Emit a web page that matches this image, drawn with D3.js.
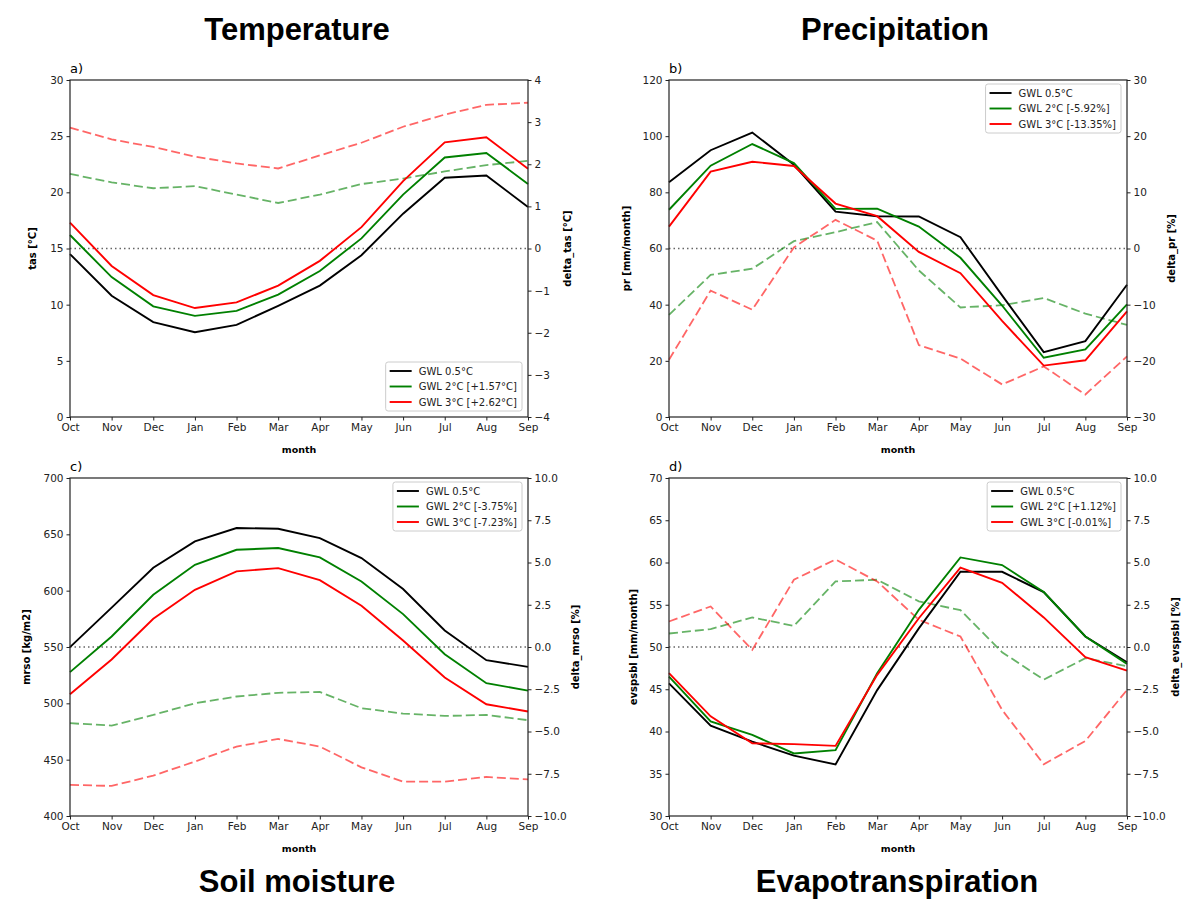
<!DOCTYPE html>
<html>
<head>
<meta charset="utf-8">
<script src="https://cdn.jsdelivr.net/npm/d3@7"></script>
<style>
  body { margin: 0; background: #fff; }
  text { font-family: 'DejaVu Sans', sans-serif; }
</style>
</head>
<body>
<script>
const months = ['Oct', 'Nov', 'Dec', 'Jan', 'Feb', 'Mar', 'Apr', 'May', 'Jun', 'Jul', 'Aug', 'Sep'];

// a) temperature
const tasGwl05 = [14.5, 10.8, 8.45, 7.55, 8.2, 9.9, 11.7, 14.4, 18.1, 21.3, 21.5, 18.7];
const tasGwl2 = [16.2, 12.45, 9.85, 9.0, 9.45, 10.9, 13.0, 15.9, 19.8, 23.1, 23.5, 20.75];
const tasGwl3 = [17.3, 13.45, 10.85, 9.7, 10.2, 11.7, 13.9, 16.9, 21.0, 24.45, 24.9, 22.1];
const tasDelta2 = [1.77, 1.57, 1.43, 1.48, 1.28, 1.08, 1.28, 1.53, 1.66, 1.83, 1.98, 2.08];
const tasDelta3 = [2.87, 2.59, 2.41, 2.18, 2.02, 1.9, 2.21, 2.51, 2.89, 3.18, 3.41, 3.46];
const tasLegend = ['GWL 0.5°C', 'GWL 2°C [+1.57°C]', 'GWL 3°C [+2.62°C]'];

// b) precipitation
const prGwl05 = [83.6, 95.0, 101.3, 89.8, 73.1, 71.5, 71.4, 64.0, 43.3, 23.1, 27.0, 47.1];
const prGwl2 = [73.8, 89.5, 97.2, 90.4, 74.1, 74.2, 67.8, 56.7, 39.7, 21.1, 24.1, 40.1];
const prGwl3 = [67.8, 87.4, 90.9, 89.4, 76.0, 71.5, 58.8, 51.2, 34.2, 18.3, 20.2, 37.6];
const prDelta2 = [-11.8, -4.7, -3.6, 1.3, 2.9, 4.7, -3.9, -10.5, -10.1, -8.8, -11.6, -13.6];
const prDelta3 = [-19.8, -7.5, -10.9, 0.2, 5.1, 1.4, -17.2, -19.6, -24.2, -21.0, -26.0, -19.2];
const prLegend = ['GWL 0.5°C', 'GWL 2°C [-5.92%]', 'GWL 3°C [-13.35%]'];

// c) soil moisture
const mrsoGwl05 = [549.9, 585, 620.3, 643.7, 655.6, 655.0, 646.7, 628.9, 601.4, 564.7, 538.3, 532.4];
const mrsoGwl2 = [527.7, 559.3, 596.4, 623.0, 636.3, 637.8, 629.5, 608.2, 579.2, 543.6, 517.9, 511.3];
const mrsoGwl3 = [508.1, 538.9, 575.0, 600.8, 617.1, 620.0, 609.4, 586.6, 555.8, 522.9, 499.2, 492.7];
const mrsoDelta2 = [-4.51, -4.65, -4.02, -3.33, -2.93, -2.71, -2.66, -3.62, -3.94, -4.08, -4.02, -4.33];
const mrsoDelta3 = [-8.16, -8.22, -7.61, -6.78, -5.89, -5.44, -5.89, -7.12, -7.97, -7.97, -7.69, -7.83];
const mrsoLegend = ['GWL 0.5°C', 'GWL 2°C [-3.75%]', 'GWL 3°C [-7.23%]'];

// d) evapotranspiration
const evGwl05 = [45.7, 40.7, 38.8, 37.15, 36.1, 44.9, 52.2, 58.9, 58.9, 56.5, 51.25, 48.2];
const evGwl2 = [46.5, 41.2, 39.6, 37.4, 37.8, 46.9, 54.4, 60.6, 59.7, 56.5, 51.25, 48.0];
const evGwl3 = [46.9, 41.8, 38.6, 38.5, 38.3, 46.7, 53.4, 59.4, 57.6, 53.5, 48.8, 47.2];
const evDelta2 = [0.8, 1.06, 1.75, 1.25, 3.88, 3.98, 2.7, 2.18, -0.31, -1.93, -0.66, -1.14];
const evDelta3 = [1.51, 2.4, -0.17, 3.98, 5.18, 3.88, 1.61, 0.62, -3.72, -6.94, -5.56, -2.54];
const evLegend = ['GWL 0.5°C', 'GWL 2°C [+1.12%]', 'GWL 3°C [-0.01%]'];

const w = 1200;
const h = 916;

const svg = d3.select('body').append('svg')
  .attr('width', w)
  .attr('height', h);

const titles = [
  { text: 'Temperature', x: 297, y: 40 },
  { text: 'Precipitation', x: 895, y: 40 },
  { text: 'Soil moisture', x: 297, y: 892 },
  { text: 'Evapotranspiration', x: 897, y: 892 }
];
svg.selectAll('text.title')
  .data(titles)
  .enter()
  .append('text')
  .attr('class', 'title')
  .attr('x', d => d.x)
  .attr('y', d => d.y)
  .attr('text-anchor', 'middle')
  .style('font-family', "'Liberation Sans', Arial, sans-serif")
  .style('font-weight', 'bold')
  .style('font-size', '31px')
  .text(d => d.text);

const panels = [
  {
    tag: 'a)', x0: 70, x1: 528, y0: 80, y1: 417,
    left: [0, 30], leftTicks: d3.range(0, 31, 5), leftFmt: d3.format('d'),
    right: [-4, 4], rightTicks: d3.range(-4, 5, 1), rightFmt: d3.format('d'),
    ylabel: 'tas [°C]', ylabelOff: 38, rlabel: 'delta_tas [°C]', rlabelOff: 39,
    base: tasGwl05, g2: tasGwl2, g3: tasGwl3, d2: tasDelta2, d3: tasDelta3,
    legend: tasLegend, legendPos: 'bottom'
  },
  {
    tag: 'b)', x0: 669, x1: 1127, y0: 80, y1: 417,
    left: [0, 120], leftTicks: d3.range(0, 121, 20), leftFmt: d3.format('d'),
    right: [-30, 30], rightTicks: d3.range(-30, 31, 10), rightFmt: d3.format('d'),
    ylabel: 'pr [mm/month]', ylabelOff: 43, rlabel: 'delta_pr [%]', rlabelOff: 44,
    base: prGwl05, g2: prGwl2, g3: prGwl3, d2: prDelta2, d3: prDelta3,
    legend: prLegend, legendPos: 'top'
  },
  {
    tag: 'c)', x0: 70, x1: 528, y0: 478, y1: 816,
    left: [400, 700], leftTicks: d3.range(400, 701, 50), leftFmt: d3.format('d'),
    right: [-10, 10], rightTicks: d3.range(-10, 10.1, 2.5), rightFmt: d3.format('.1f'),
    ylabel: 'mrso [kg/m2]', ylabelOff: 44, rlabel: 'delta_mrso [%]', rlabelOff: 47,
    base: mrsoGwl05, g2: mrsoGwl2, g3: mrsoGwl3, d2: mrsoDelta2, d3: mrsoDelta3,
    legend: mrsoLegend, legendPos: 'top'
  },
  {
    tag: 'd)', x0: 669, x1: 1127, y0: 478, y1: 816,
    left: [30, 70], leftTicks: d3.range(30, 71, 5), leftFmt: d3.format('d'),
    right: [-10, 10], rightTicks: d3.range(-10, 10.1, 2.5), rightFmt: d3.format('.1f'),
    ylabel: 'evspsbl [mm/month]', ylabelOff: 36, rlabel: 'delta_evspsbl [%]', rlabelOff: 48,
    base: evGwl05, g2: evGwl2, g3: evGwl3, d2: evDelta2, d3: evDelta3,
    legend: evLegend, legendPos: 'top'
  }
];

panels.forEach(p => drawPanel(p));

function drawPanel(p) {
  const g = svg.append('g');
  const x = d3.scalePoint().domain(months).range([p.x0, p.x1]);
  const yL = d3.scaleLinear().domain(p.left).range([p.y1, p.y0]);
  const yR = d3.scaleLinear().domain(p.right).range([p.y1, p.y0]);

  // zero line of the delta axis
  g.append('line')
    .attr('x1', p.x0).attr('x2', p.x1)
    .attr('y1', yR(0)).attr('y2', yR(0))
    .attr('stroke', '#666')
    .attr('stroke-width', 1.5)
    .attr('stroke-dasharray', '1.5,3');

  const lineL = d3.line().x((d, i) => x(months[i])).y(d => yL(d));
  const lineR = d3.line().x((d, i) => x(months[i])).y(d => yR(d));

  // dashed deltas (right axis)
  g.append('path').datum(p.d2).attr('d', lineR)
    .attr('fill', 'none').attr('stroke', 'green').attr('stroke-opacity', 0.6)
    .attr('stroke-width', 1.8).attr('stroke-dasharray', '9,4');
  g.append('path').datum(p.d3).attr('d', lineR)
    .attr('fill', 'none').attr('stroke', 'red').attr('stroke-opacity', 0.6)
    .attr('stroke-width', 1.8).attr('stroke-dasharray', '9,4');

  // absolute values (left axis)
  const series = [
    { vals: p.base, color: 'black' },
    { vals: p.g2, color: 'green' },
    { vals: p.g3, color: 'red' }
  ];
  g.selectAll('path.abs')
    .data(series)
    .enter()
    .append('path')
    .attr('class', 'abs')
    .attr('d', d => lineL(d.vals))
    .attr('fill', 'none')
    .attr('stroke', d => d.color)
    .attr('stroke-width', 1.9);

  // axes
  const axB = g.append('g').attr('transform', `translate(0,${p.y1})`)
    .call(d3.axisBottom(x).tickSize(3.5).tickPadding(3));
  const axL = g.append('g').attr('transform', `translate(${p.x0},0)`)
    .call(d3.axisLeft(yL).tickValues(p.leftTicks).tickFormat(p.leftFmt).tickSize(3.5).tickPadding(3));
  const axR = g.append('g').attr('transform', `translate(${p.x1},0)`)
    .call(d3.axisRight(yR).tickValues(p.rightTicks).tickFormat(p.rightFmt).tickSize(3.5).tickPadding(3));
  [axB, axL, axR].forEach(a => {
    a.select('.domain').remove();
    a.selectAll('text').style('font-size', '10.5px').style('font-family', "'DejaVu Sans', sans-serif").attr('fill', '#222');
    a.selectAll('line').attr('stroke', '#222').attr('stroke-width', 1);
  });

  // frame
  g.append('rect')
    .attr('x', p.x0).attr('y', p.y0)
    .attr('width', p.x1 - p.x0).attr('height', p.y1 - p.y0)
    .attr('fill', 'none').attr('stroke', '#222').attr('stroke-width', 1.2);

  // labels
  g.append('text')
    .attr('x', (p.x0 + p.x1) / 2).attr('y', p.y1 + 36)
    .attr('text-anchor', 'middle')
    .style('font-weight', 'bold').style('font-size', '9.5px')
    .text('month');
  g.append('text')
    .attr('transform', `translate(${p.x0 - p.ylabelOff},${(p.y0 + p.y1) / 2}) rotate(-90)`)
    .attr('text-anchor', 'middle').attr('dy', '0.35em')
    .style('font-weight', 'bold').style('font-size', '10px')
    .text(p.ylabel);
  g.append('text')
    .attr('transform', `translate(${p.x1 + p.rlabelOff},${(p.y0 + p.y1) / 2}) rotate(-90)`)
    .attr('text-anchor', 'middle').attr('dy', '0.35em')
    .style('font-weight', 'bold').style('font-size', '10px')
    .text(p.rlabel);
  g.append('text')
    .attr('x', p.x0).attr('y', p.y0 - 7)
    .style('font-size', '13px')
    .text(p.tag);

  // legend
  const lg = g.append('g');
  const box = lg.append('rect')
    .attr('fill', 'white').attr('fill-opacity', 0.8)
    .attr('stroke', '#ccc').attr('rx', 2.5);
  const rows = lg.selectAll('g.row')
    .data(p.legend)
    .enter()
    .append('g')
    .attr('class', 'row')
    .attr('transform', (d, i) => `translate(0,${i * 15.5})`);
  rows.append('line')
    .attr('x1', 4).attr('x2', 26).attr('y1', 0).attr('y2', 0)
    .attr('stroke', (d, i) => series[i].color).attr('stroke-width', 1.9);
  rows.append('text')
    .attr('x', 33).attr('dy', '0.35em')
    .style('font-size', '10px')
    .attr('fill', '#222')
    .text(d => d);
  let tw = 0;
  rows.selectAll('text').each(function () { tw = Math.max(tw, this.getComputedTextLength()); });
  const bw = 33 + tw + 5;
  const bh = 49;
  box.attr('x', 0).attr('y', -9).attr('width', bw).attr('height', bh);
  const lx = p.x1 - 6 - bw;
  const ly = p.legendPos === 'top' ? p.y0 + 4 + 9 : p.y1 - 6 - bh + 9;
  lg.attr('transform', `translate(${lx},${ly})`);
}
</script>
</body>
</html>
